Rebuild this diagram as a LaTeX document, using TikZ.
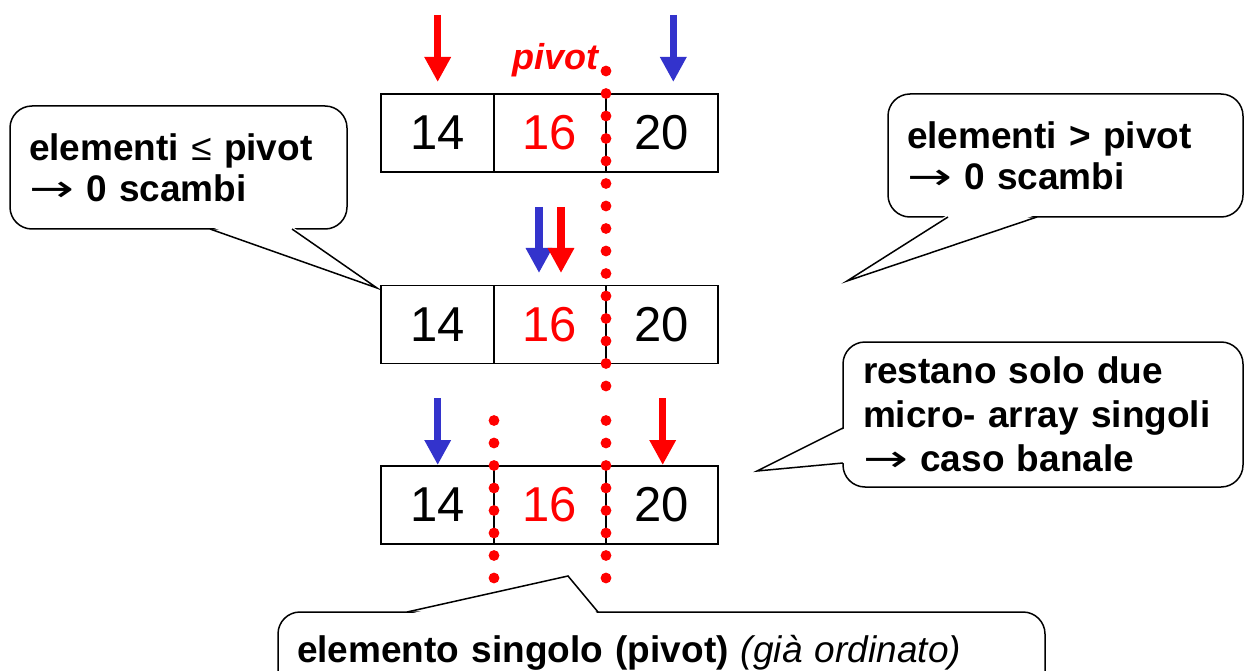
\documentclass[tikz,border=0pt]{standalone}
\usepackage{fontspec}
\setmainfont{Liberation Sans}
\newfontfamily\symfont{DejaVu Sans}
\usetikzlibrary{arrows.meta,calc}
\definecolor{pred}{RGB}{255,0,0}
\definecolor{pblue}{RGB}{51,51,204}
\newcommand{\rarr}{{\symfont\mdseries\scalebox{1.45}[1]{→}}}
\begin{document}
\begin{tikzpicture}[x=1pt,y=-1pt,
  cell/.style={draw, line width=1.6pt, minimum height=78pt, inner sep=0pt, font=\fontsize{49}{50}\selectfont},
  parrow/.style={line width=7.5pt, -{Triangle[width=25pt,length=25pt]}},
  dotc/.style={fill=pred},
  callout/.style={draw, line width=1.5pt, rounded corners=22pt, fill=white, inner xsep=19pt, inner ysep=0pt, align=left, font=\fontsize{37}{41}\selectfont\bfseries},
  tailline/.style={line width=1.5pt, line join=miter},
]
\useasboundingbox (0,0) rectangle (1245,671);
\clip (0,0) rectangle (1245,671);

% arrays
\foreach \r/\y in {1/133, 2/324.5, 3/505} {
  \node[cell, minimum width=113pt] (a\r) at (437.5,\y) {14};
  \node[cell, minimum width=112pt, text=pred] (b\r) at (550,\y) {16};
  \node[cell, minimum width=112pt] (c\r) at (662,\y) {20};
}

% dotted dividers
\foreach \k in {0,...,14} \fill[dotc] (606,{71+22.5*\k}) circle (5.4pt);
\foreach \k in {0,...,7} {
  \fill[dotc] (606,{420.5+22.5*\k}) circle (5.4pt);
  \fill[dotc] (494,{420.5+22.5*\k}) circle (5.4pt);
}

% pivot label
\node[text=pred, font=\fontsize{36}{40}\selectfont\bfseries\itshape, anchor=base] (pv) at (555,70) {pivot};

% arrows
\coordinate (r1s) at (437.7,15);  \coordinate (r1e) at (437.7,82);
\coordinate (u1s) at (673.3,15);  \coordinate (u1e) at (673.3,82);
\coordinate (u2s) at (539,207);   \coordinate (u2e) at (539,273);
\coordinate (r2s) at (561,207);   \coordinate (r2e) at (561,273);
\coordinate (u3s) at (437.7,398); \coordinate (u3e) at (437.7,465);
\coordinate (r3s) at (662.7,398); \coordinate (r3e) at (662.7,465);
\draw[parrow, pred] (r1s) -- (r1e);
\draw[parrow, pblue] (u1s) -- (u1e);
\draw[parrow, pblue] (u2s) -- (u2e);
\draw[parrow, pred] (r2s) -- (r2e);
\draw[parrow, pblue] (u3s) -- (u3e);
\draw[parrow, pred] (r3s) -- (r3e);

% callout 1
\node[callout, minimum width=337pt, minimum height=123pt, text width=299pt] (k1) at (178.5,167.5)
  {elementi {\mdseries ≤} pivot\\\rarr\ 0 scambi};
\coordinate (k1a) at (210,229); \coordinate (k1b) at (292,229); \coordinate (k1t) at (377,288);
\fill[white] ($(k1a)+(0,-2.5)$) -- (k1t) -- ($(k1b)+(0,-2.5)$) -- cycle;
\draw[tailline] (k1a) -- (k1t) -- (k1b);

% callout 2
\node[callout, minimum width=355pt, minimum height=123pt, text width=317pt] (k2) at (1065.5,155.5)
  {elementi > pivot\\\rarr\ 0 scambi};
\coordinate (k2a) at (948,217); \coordinate (k2b) at (1037,217); \coordinate (k2t) at (847,281);
\fill[white] ($(k2a)+(0,-2.5)$) -- (k2t) -- ($(k2b)+(0,-2.5)$) -- cycle;
\draw[tailline] (k2a) -- (k2t) -- (k2b);

% callout 3
\node[callout, font=\fontsize{37}{44}\selectfont\bfseries, minimum width=400pt, minimum height=145pt, text width=360pt, inner xsep=20pt] (k3) at (1043,414.5)
  {restano solo due\\micro- array singoli\\\rarr\ caso banale};
\coordinate (k3a) at (843,428); \coordinate (k3b) at (843,463); \coordinate (k3t) at (757,471);
\fill[white] ($(k3a)+(2.5,0)$) -- (k3t) -- ($(k3b)+(2.5,0)$) -- cycle;
\draw[tailline] (k3a) -- (k3t) -- (k3b);

% callout 4
\node[callout, minimum width=767pt, minimum height=82pt, text width=729pt] (k4) at (661.5,653)
  {elemento singolo (pivot) {\mdseries\itshape (già ordinato)}};
\coordinate (k4a) at (407,612); \coordinate (k4b) at (598,612); \coordinate (k4t) at (568,576);
\fill[white] ($(k4a)+(0,2.5)$) -- (k4t) -- ($(k4b)+(0,2.5)$) -- cycle;
\draw[tailline] (k4a) -- (k4t) -- (k4b);
\end{tikzpicture}
\end{document}
